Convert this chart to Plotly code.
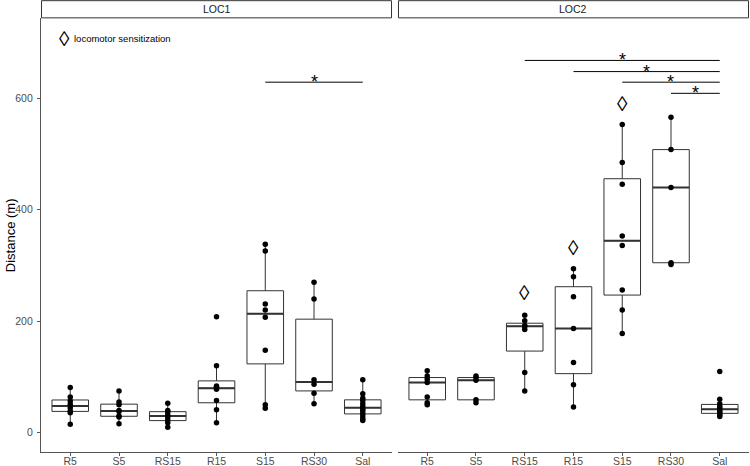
"""
Locomotor distance per treatment group, faceted by LOC1 / LOC2.
Boxplots (ggplot-style) with raw points, significance bars and
diamond markers for locomotor sensitization.
"""

import numpy as np
import plotly.graph_objects as go

# ---------------------------------------------------------------------------
# DATA
# ---------------------------------------------------------------------------
CATEGORIES = ["R5", "S5", "RS15", "R15", "S15", "RS30", "Sal"]
PANELS = ["LOC1", "LOC2"]

LOC1_R5 = [15, 36, 39, 45, 51, 57, 64, 81]
LOC1_S5 = [16, 28, 30, 38, 40, 50, 55, 75]
LOC1_RS15 = [10, 18, 23, 28, 32, 37, 40, 53]
LOC1_R15 = [18, 41, 58, 78, 82, 84, 120, 208]
LOC1_S15 = [44, 50, 148, 207, 220, 231, 326, 338]
LOC1_RS30 = [52, 71, 87, 95, 240, 270]
LOC1_SAL = [22, 25, 30, 35, 40, 43, 47, 52, 58, 62, 70, 95]

LOC2_R5 = [50, 54, 64, 90, 96, 102, 111]
LOC2_S5 = [54, 59, 94, 99, 102]
LOC2_RS15 = [75, 108, 185, 191, 192, 201, 211]
LOC2_R15 = [46, 86, 126, 187, 244, 280, 294]
LOC2_S15 = [178, 220, 256, 336, 353, 446, 485, 553]
LOC2_RS30 = [302, 305, 440, 508, 566]
LOC2_SAL = [29, 32, 34, 37, 40, 44, 47, 52, 60, 110]

LOC1_GROUPS = [LOC1_R5, LOC1_S5, LOC1_RS15, LOC1_R15, LOC1_S15, LOC1_RS30, LOC1_SAL]
LOC2_GROUPS = [LOC2_R5, LOC2_S5, LOC2_RS15, LOC2_R15, LOC2_S15, LOC2_RS30, LOC2_SAL]

# significance bars: (from, to, height)
LOC1_SIG = [("S15", "Sal", 629)]
LOC2_SIG = [
    ("RS15", "Sal", 668),
    ("R15", "Sal", 648),
    ("S15", "Sal", 629),
    ("RS30", "Sal", 609),
]

# locomotor sensitization markers (LOC2)
SENS_GROUPS = ["RS15", "R15", "S15"]
SENS_Y = [252, 333, 591]

Y_TICKS = [0, 200, 400, 600]
LEGEND_TEXT = "locomotor sensitization"
Y_TITLE = "Distance (m)"

# ---------------------------------------------------------------------------
# STYLE
# ---------------------------------------------------------------------------
WIDTH, HEIGHT = 750, 466
FONT = "Liberation Sans, Arial, sans-serif"
BOX_COLOR = "#333333"
AXIS_COLOR = "#555555"
TICK_TEXT = "#4d4d4d"
Y_RANGE = [-34.6, 743.6]
Y_TOP = 0.9595          # top of panels in paper coords (strip sits above)
X1_DOMAIN = [0.0, 0.4958]
X2_DOMAIN = [0.5042, 1.0]


def box_stats(groups):
    q1, med, q3, lo, hi = [], [], [], [], []
    for vals in groups:
        v = np.asarray(vals, dtype=float)
        a, m, b = np.percentile(v, [25, 50, 75])
        iqr = b - a
        q1.append(a)
        med.append(m)
        q3.append(b)
        lo.append(v[v >= a - 1.5 * iqr].min())
        hi.append(v[v <= b + 1.5 * iqr].max())
    return q1, med, q3, lo, hi


def add_panel(fig, groups, xa, ya):
    q1, med, q3, lo, hi = box_stats(groups)
    fig.add_trace(go.Box(
        x=CATEGORIES, q1=q1, median=med, q3=q3, lowerfence=lo, upperfence=hi,
        width=0.75, whiskerwidth=0, fillcolor="white", boxpoints=False,
        line=dict(color=BOX_COLOR, width=1), xaxis=xa, yaxis=ya,
        showlegend=False, hoverinfo="skip",
    ))
    # thicker median line (ggplot fatten)
    fig.add_trace(go.Box(
        x=CATEGORIES, q1=med, median=med, q3=med, lowerfence=med, upperfence=med,
        width=0.75, whiskerwidth=0, fillcolor="rgba(0,0,0,0)", boxpoints=False,
        line=dict(color=BOX_COLOR, width=2), xaxis=xa, yaxis=ya,
        showlegend=False, hoverinfo="skip",
    ))
    xs, ys = [], []
    for cat, vals in zip(CATEGORIES, groups):
        xs += [cat] * len(vals)
        ys += list(vals)
    fig.add_trace(go.Scatter(
        x=xs, y=ys, mode="markers", xaxis=xa, yaxis=ya,
        marker=dict(color="black", size=5.5), showlegend=False,
    ))


def add_sig(fig, sig, xa, ya, xref):
    for a, b, h in sig:
        fig.add_trace(go.Scatter(
            x=[a, b], y=[h, h], mode="lines", xaxis=xa, yaxis=ya,
            line=dict(color="black", width=1), showlegend=False,
        ))
        mid = (CATEGORIES.index(a) + CATEGORIES.index(b)) / 2
        fig.add_annotation(
            x=mid, y=h, xref=xref, yref="y", text="*", showarrow=False,
            yanchor="middle", font=dict(family=FONT, size=18, color="black"),
        )


def main():
    fig = go.Figure()
    add_panel(fig, LOC1_GROUPS, "x", "y")
    add_panel(fig, LOC2_GROUPS, "x2", "y")
    add_sig(fig, LOC1_SIG, "x", "y", "x")
    add_sig(fig, LOC2_SIG, "x2", "y", "x2")

    for cat, yv in zip(SENS_GROUPS, SENS_Y):
        fig.add_annotation(
            x=CATEGORIES.index(cat), y=yv, xref="x2", yref="y", text="\u25CA",
            showarrow=False, xanchor="center", yanchor="middle",
            font=dict(family=FONT, size=21, color="black"),
        )

    # legend-like key in LOC1
    fig.add_annotation(
        x=0.0325, y=0.9144, xref="paper", yref="paper", text="\u25CA",
        showarrow=False, xanchor="center", yanchor="middle",
        font=dict(family=FONT, size=21, color="black"),
    )
    fig.add_annotation(
        x=0.0435, y=0.9144, xref="paper", yref="paper", text=LEGEND_TEXT,
        showarrow=False, xanchor="left", yanchor="middle",
        font=dict(family=FONT, size=9.5, color="black"),
    )

    # facet strips
    for dom, label in zip([X1_DOMAIN, X2_DOMAIN], PANELS):
        fig.add_shape(
            type="rect", xref="paper", yref="paper",
            x0=dom[0] + 0.0007, x1=dom[1] - 0.0007, y0=Y_TOP + 0.001, y1=0.9985,
            line=dict(color=BOX_COLOR, width=1), fillcolor="white", layer="below",
        )
        fig.add_annotation(
            x=(dom[0] + dom[1]) / 2, y=(Y_TOP + 1) / 2, xref="paper", yref="paper",
            text=label, showarrow=False, xanchor="center", yanchor="middle",
            font=dict(family=FONT, size=10.5, color="#1a1a1a"),
        )

    fig.add_annotation(
        x=-31 / 708, y=Y_TOP / 2, xref="paper", yref="paper", text=Y_TITLE,
        textangle=-90, showarrow=False, xanchor="center", yanchor="middle",
        font=dict(family=FONT, size=13, color="black"),
    )

    xaxis_common = dict(
        type="category", categoryorder="array", categoryarray=CATEGORIES,
        range=[-0.6, 6.6], showline=True, linecolor=AXIS_COLOR, linewidth=1.2,
        ticks="outside", ticklen=3, tickcolor=AXIS_COLOR, showgrid=False,
        zeroline=False, tickfont=dict(family=FONT, size=10.5, color=TICK_TEXT),
        anchor="y", fixedrange=True, automargin=False, ticklabelstandoff=-4,
    )
    fig.update_layout(
        template="none",
        width=WIDTH, height=HEIGHT,
        margin=dict(l=41, r=1, t=0, b=14),
        paper_bgcolor="white", plot_bgcolor="white",
        boxmode="overlay",
        xaxis=dict(domain=X1_DOMAIN, **xaxis_common),
        xaxis2=dict(domain=X2_DOMAIN, **xaxis_common),
        yaxis=dict(
            domain=[0, Y_TOP], range=Y_RANGE, tickvals=Y_TICKS,
            showline=True, linecolor=AXIS_COLOR, linewidth=1.2,
            ticks="outside", ticklen=3, tickcolor=AXIS_COLOR,
            showgrid=False, zeroline=False, automargin=False, fixedrange=True,
            ticklabelstandoff=2,
            tickfont=dict(family=FONT, size=10.5, color=TICK_TEXT),
        ),
        font=dict(family=FONT, color="black"),
    )
    # page body has a default 8px margin; drop it so the figure fills the window
    fig.write_html(
        "out.html",
        config={"displayModeBar": False},
        post_script="document.body.style.margin='0';",
    )


if __name__ == "__main__":
    main()
